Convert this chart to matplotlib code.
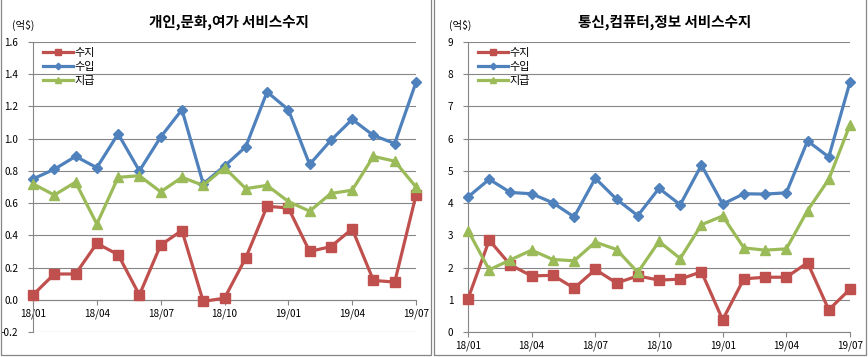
import matplotlib
matplotlib.use("Agg")
import matplotlib.pyplot as plt
from matplotlib.patches import Rectangle
from matplotlib.ticker import FixedLocator, FormatStrFormatter

plt.rcParams['font.family'] = ['Noto Sans CJK KR', 'DejaVu Sans']

months = ["18/01", "18/02", "18/03", "18/04", "18/05", "18/06", "18/07", "18/08", "18/09",
          "18/10", "18/11", "18/12", "19/01", "19/02", "19/03", "19/04", "19/05", "19/06", "19/07"]
tick_labels = ["18/01", "18/04", "18/07", "18/10", "19/01", "19/04", "19/07"]
series_names = ["수지", "수입", "지급"]

# 개인,문화,여가 서비스수지
left_balance = [0.03, 0.16, 0.16, 0.35, 0.28, 0.03, 0.34, 0.43, -0.01, 0.01, 0.26, 0.58, 0.57,
                0.30, 0.33, 0.44, 0.12, 0.11, 0.65]
left_receipts = [0.75, 0.81, 0.89, 0.82, 1.03, 0.80, 1.01, 1.18, 0.72, 0.83, 0.95, 1.29, 1.18,
                 0.84, 0.99, 1.12, 1.02, 0.97, 1.35]
left_payments = [0.72, 0.65, 0.73, 0.47, 0.76, 0.77, 0.67, 0.76, 0.71, 0.82, 0.69, 0.71, 0.61,
                 0.55, 0.66, 0.68, 0.89, 0.86, 0.70]

# 통신,컴퓨터,정보 서비스수지
right_balance = [1.03, 2.85, 2.08, 1.74, 1.76, 1.36, 1.94, 1.52, 1.74, 1.61, 1.64, 1.87, 0.38,
                 1.65, 1.70, 1.70, 2.15, 0.69, 1.33]
right_receipts = [4.19, 4.74, 4.33, 4.29, 4.01, 3.57, 4.77, 4.12, 3.61, 4.46, 3.95, 5.18, 3.97,
                  4.29, 4.28, 4.32, 5.93, 5.43, 7.76]
right_payments = [3.15, 1.93, 2.24, 2.54, 2.25, 2.21, 2.79, 2.56, 1.85, 2.81, 2.28, 3.33, 3.60,
                  2.61, 2.54, 2.58, 3.77, 4.74, 6.43]

titles = ["개인,문화,여가 서비스수지", "통신,컴퓨터,정보 서비스수지"]
unit = "(억$)"

RED = "#C0504D"
BLUE = "#4F81BD"
GREEN = "#9BBB59"
GRID = "#868686"

W, H = 868, 357
fig = plt.figure(figsize=(W / 100, H / 100), dpi=100)


def px_axes(x0, x1, y0, y1):
    return fig.add_axes([x0 / W, 1 - y1 / H, (x1 - x0) / W, (y1 - y0) / H])


def draw(ax, bal, rec, pay, ylim, ystep, fmt, xaxis_at_zero):
    x = list(range(len(months)))
    ax.plot(x, bal, color=RED, lw=2.3, marker="s", ms=6.5, label=series_names[0], zorder=3,
            clip_on=False)
    ax.plot(x, rec, color=BLUE, lw=2.3, marker="D", ms=5.5, label=series_names[1], zorder=3,
            clip_on=False)
    ax.plot(x, pay, color=GREEN, lw=2.3, marker="^", ms=7, label=series_names[2], zorder=3,
            clip_on=False)
    ax.set_xlim(0, len(months) - 1)
    ax.set_ylim(*ylim)
    n = int(round((ylim[1] - ylim[0]) / ystep))
    ax.yaxis.set_major_locator(FixedLocator([round(ylim[0] + i * ystep, 6) for i in range(n + 1)]))
    ax.yaxis.set_major_formatter(FormatStrFormatter(fmt))
    tpos = [months.index(t) for t in tick_labels]
    ax.set_xticks(tpos)
    ax.set_xticklabels(tick_labels)
    ax.grid(axis="y", color=GRID, lw=0.8)
    ax.set_axisbelow(True)
    for s in ["top", "right"]:
        ax.spines[s].set_visible(False)
    for s in ["left", "bottom"]:
        ax.spines[s].set_color(GRID)
        ax.spines[s].set_linewidth(0.8)
    if xaxis_at_zero:
        ax.spines["bottom"].set_position(("data", 0))
    ax.tick_params(axis="both", labelsize=7.2, color=GRID, length=3.5, width=0.8)
    ax.tick_params(axis="x", pad=2.5)
    ax.tick_params(axis="y", pad=7)
    ax.legend(loc="upper left", bbox_to_anchor=(0.012, 1.0), frameon=False, fontsize=8,
              handlelength=2.7, handletextpad=0.1, labelspacing=0.38, borderpad=0.0,
              markerscale=0.6)


ax1 = px_axes(33, 416, 42, 332)
draw(ax1, left_balance, left_receipts, left_payments, (-0.2, 1.6), 0.2, "%.1f", True)
ax2 = px_axes(468, 850, 42, 332)
draw(ax2, right_balance, right_receipts, right_payments, (0, 9), 1, "%d", False)

fig.text(229 / W, 1 - 22 / H, titles[0], ha="center", va="center", fontsize=10.5,
         fontweight="bold")
fig.text(665 / W, 1 - 22 / H, titles[1], ha="center", va="center", fontsize=10.5,
         fontweight="bold")
fig.text(12 / W, 1 - 25 / H, unit, ha="left", va="center", fontsize=7.5)
fig.text(449 / W, 1 - 25 / H, unit, ha="left", va="center", fontsize=7.5)

for (x0, x1) in [(1, 431), (434, 866)]:
    fig.add_artist(Rectangle((x0 / W, 1 - 355 / H), (x1 - x0) / W, 400 / H,
                             transform=fig.transFigure, fill=False, ec=GRID, lw=0.9))

fig.savefig("out.png", dpi=100)
